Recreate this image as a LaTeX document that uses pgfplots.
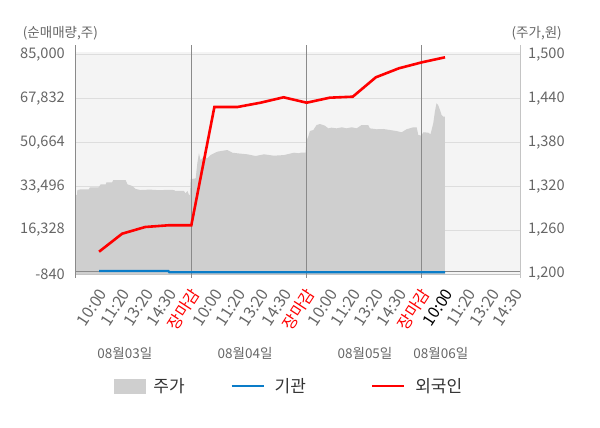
\documentclass[border=0pt]{standalone}
\usepackage{pgfplots}
\pgfplotsset{compat=1.18}
\usepackage{pgfplotstable}
\usepackage{fontspec}
\setmainfont{Noto Sans CJK KR}
\definecolor{areagray}{HTML}{CFCFCF}
\definecolor{bggray}{HTML}{F4F4F4}
\definecolor{gridgray}{HTML}{DDDDDD}
\definecolor{darkline}{HTML}{8A8A8A}
\definecolor{lightline}{HTML}{C4C4C4}
\definecolor{ticktext}{HTML}{666666}
\definecolor{legtext}{HTML}{333333}
\definecolor{fred}{HTML}{FF0000}
\definecolor{iblue}{HTML}{0A7CC8}

\pgfplotstableread{
x y
0.00 1307.9
0.04 1307.9
0.06 1314.7
0.20 1315.7
0.56 1315.7
0.60 1318.4
0.98 1318.4
1.07 1322.5
1.29 1322.5
1.32 1325.3
1.57 1325.3
1.62 1328.4
2.15 1328.4
2.23 1322.5
2.44 1320.2
2.59 1316.1
2.80 1314.7
3.20 1315.3
3.60 1314.5
4.00 1315.0
4.25 1314.7
4.30 1313.4
4.68 1313.4
4.75 1310.2
4.83 1313.4
4.90 1307.9
4.94 1307.9
4.97 1329.4
5.19 1330.7
5.26 1351.2
5.33 1364.9
5.40 1355.7
5.55 1360.2
5.69 1358.0
5.84 1362.6
6.13 1367.1
6.56 1369.4
6.78 1365.7
6.99 1364.9
7.43 1363.5
7.79 1361.2
8.15 1363.5
8.58 1361.6
9.02 1362.5
9.45 1365.7
9.67 1364.9
9.74 1365.7
9.95 1365.7
10.00 1383.0
10.07 1387.6
10.14 1395.3
10.29 1396.7
10.43 1403.5
10.58 1404.9
10.79 1402.6
10.94 1399.0
11.08 1399.9
11.30 1399.0
11.52 1400.4
11.73 1399.0
11.95 1400.4
12.17 1399.0
12.38 1403.5
12.67 1403.5
12.74 1399.0
13.03 1397.7
13.32 1398.1
13.61 1396.7
13.90 1395.3
14.12 1393.6
14.33 1397.7
14.62 1400.4
14.77 1400.4
14.84 1389.9
14.98 1389.0
15.05 1393.6
15.27 1393.1
15.37 1390.8
15.49 1405.9
15.56 1421.7
15.63 1433.2
15.70 1430.9
15.78 1424.0
15.85 1417.2
15.92 1414.9
15.99 1414.9
}\pricetable

\pgfplotstableread{
x y
1 7877
2 14913
3 17532
4 18197
5 18197
6 64440
7 64440
8 66121
9 68232
10 66121
11 68076
12 68467
13 76050
14 79568
15 81914
16 83868
}\foreigntable

\pgfplotstableread{
x y
1 333
2 333
3 333
4 333
4.05 -175
5 -175
6 -175
7 -175
8 -175
9 -175
10 -175
11 -175
12 -175
13 -175
14 -175
15 -175
16 -175
}\insttable

\newcommand{\tickfont}{\fontsize{14.6}{16}\selectfont}
\newcommand{\xfont}{\fontsize{16}{17}\selectfont}
\newcommand{\korfont}{\fontsize{13.5}{15}\selectfont}

\begin{document}
\begin{tikzpicture}
\path[use as bounding box] (0,0) rectangle (600pt,428pt);
% price axis (right)
\begin{axis}[
  at={(76pt,154pt)}, anchor=south west,
  scale only axis, width=444pt, height=222pt,
  xmin=0, xmax=19.25, ymin=1200, ymax=1503.3,
  scaled y ticks=false,
  axis background/.style={fill=bggray},
  axis line style={draw=none},
  xtick=\empty,
  ytick={1200,1260,1320,1380,1440,1500},
  yticklabels={{1,200},{1,260},{1,320},{1,380},{1,440},{1,500}},
  yticklabel pos=right,
  ymajorgrids, grid style={gridgray, line width=0.8pt},
  major tick length=0pt,
  yticklabel style={font=\tickfont, text=ticktext, anchor=west, inner sep=0pt, xshift=8pt},
]
\addplot[fill=areagray, draw=none] table {\pricetable} \closedcycle;
\end{axis}
% net volume axis (left)
\begin{axis}[
  at={(76pt,154pt)}, anchor=south west,
  scale only axis, width=444pt, height=222pt,
  xmin=0, xmax=19.25, ymin=-840, ymax=85940,
  scaled y ticks=false, scaled x ticks=false,
  axis line style={draw=none},
  clip=false,
  major tick length=0pt,
  xtick={1,...,19},
  xticklabels={10:00,11:20,13:20,14:30,\textcolor{fred}{장마감},
               10:00,11:20,13:20,14:30,\textcolor{fred}{장마감},
               10:00,11:20,13:20,14:30,\textcolor{fred}{장마감},
               \textcolor{black}{10:00},11:20,13:20,14:30},
  xticklabel style={font=\xfont, text=ticktext, inner sep=0pt, xshift=4pt, yshift=-16.6pt, rotate=57, anchor=east},
  ytick={-840,16328,33496,50664,67832,85000},
  yticklabels={{-840},{16,328},{33,496},{50,664},{67,832},{85,000}},
  yticklabel style={font=\tickfont, text=ticktext, anchor=east, inner sep=0pt, xshift=-11pt},
  legend columns=3,
  legend style={at={(axis description cs:0.0856,-0.5045)}, anchor=west, draw=none, fill=none,
    inner sep=0pt, outer sep=0pt, font=\fontsize{17}{18}\selectfont, text=legtext,
    column sep=0pt, nodes={inner sep=0pt}},
  legend cell align=left,
  legend image code/.code={\draw[#1] (0pt,0pt) -- (32pt,0pt);},
]
\addlegendimage{legend image code/.code={\fill[areagray] (0pt,-7pt) rectangle (31pt,7pt);}}
\addlegendentry{\hspace{8pt}\makebox[77pt][l]{주가}}
\addplot[darkline, line width=1pt, forget plot] coordinates {(0,0) (19.25,0)};
\draw[lightline, line width=0.8pt] (axis cs:0,-840) -- (axis cs:19.25,-840);
\draw[darkline, line width=1pt] ([yshift=-4pt]axis cs:0,-840) -- ([yshift=7pt]axis cs:0,85940);
\draw[darkline, line width=1pt] ([yshift=-4pt]axis cs:5,-840) -- ([yshift=7pt]axis cs:5,85940);
\draw[darkline, line width=1pt] ([yshift=-4pt]axis cs:10,-840) -- ([yshift=7pt]axis cs:10,85940);
\draw[darkline, line width=1pt] ([yshift=-4pt]axis cs:15,-840) -- ([yshift=7pt]axis cs:15,85940);
\draw[lightline, line width=0.8pt] ([yshift=-4pt]axis cs:19.25,-840) -- ([yshift=7pt]axis cs:19.25,85940);
\addplot[iblue, line width=2.3pt] table {\insttable};
\addlegendentry{\hspace{10pt}\makebox[96pt][l]{기관}}
\addplot[fred, line width=2.6pt] table {\foreigntable};
\addlegendentry{\hspace{10pt}외국인}
\node[font=\korfont, text=ticktext] at ([yshift=-79.3pt]axis cs:2.12,-840) {08월03일};
\node[font=\korfont, text=ticktext] at ([yshift=-79.3pt]axis cs:7.33,-840) {08월04일};
\node[font=\korfont, text=ticktext] at ([yshift=-79.3pt]axis cs:12.53,-840) {08월05일};
\node[font=\korfont, text=ticktext] at ([yshift=-79.3pt]axis cs:15.82,-840) {08월06일};
\end{axis}
\node[anchor=west, font=\korfont, text=ticktext, inner sep=0pt] at (22.7pt,394.7pt) {(순매매량,주)};
\node[anchor=east, font=\korfont, text=ticktext, inner sep=0pt] at (562pt,394.7pt) {(주가,원)};
\end{tikzpicture}
\end{document}
